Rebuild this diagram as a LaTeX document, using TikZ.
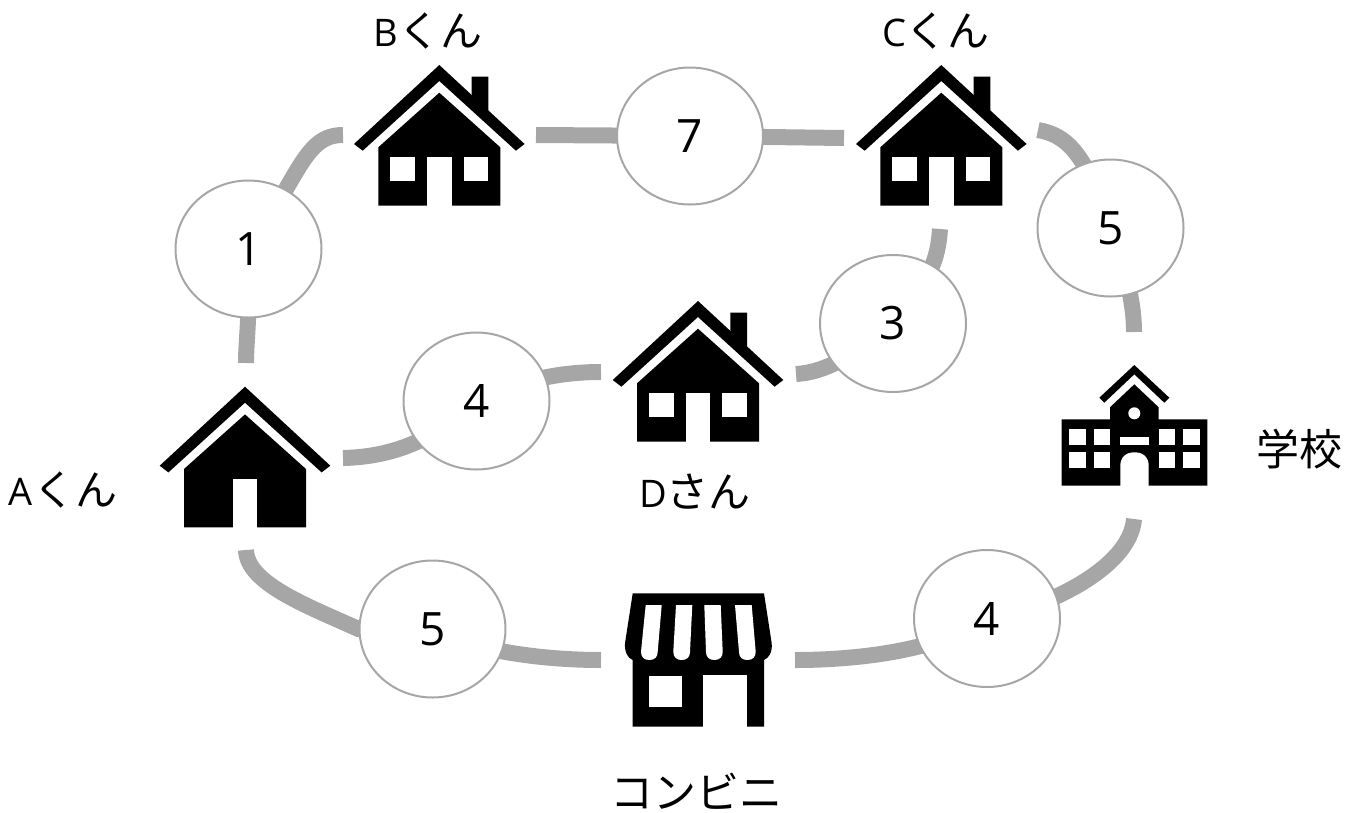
\documentclass[tikz,border=0pt]{standalone}
\usepackage{fontspec}
\setmainfont{Open Sans}
\newfontfamily\jpfont{Noto Sans CJK JP}
\newcommand{\kana}[1]{{\fontsize{42}{46}\jpfont #1}}
\usetikzlibrary{shapes.geometric,backgrounds}

\tikzset{
    dist/.style={ellipse, draw=linegray, line width=2pt, fill=white, inner sep=0pt,
        minimum width=146, minimum height=137, font=\fontsize{46}{50}\selectfont},
    road/.style={draw=roadgray, line width=16pt},
    who/.style={font=\fontsize{38}{42}\selectfont},
    bigwho/.style={font=\fontsize{43}{48}\jpfont},
    % roof and body of a house, from the tip of the roof
    house/.pic={
        \fill (0,0) -- (-85.3,79) -- (-76.6,85.7) -- (0,16) -- (76.6,85.7) -- (85.3,79) -- cycle;
        \fill (0,27.7) -- (-61,82.3) -- (-61,140.7) -- (61,140.7) -- (61,82.3) -- cycle;
        \fill[white] (-12.2,92) rectangle (12.2,141);
    },
    housefull/.pic={
        \pic {house};
        \fill (32.4,40) -- (32.4,11.7) -- (49,11.7) -- (49,55) -- cycle;
        \fill[white] (-49,92.3) rectangle (-24.3,115.7);
        \fill[white] (24.3,92.3) rectangle (49,115.7);
    }
}
\definecolor{linegray}{HTML}{A6A6A6}
\definecolor{roadgray}{HTML}{A6A6A6}

\begin{document}
\begin{tikzpicture}[x=1pt,y=-1pt]
    \useasboundingbox (0,0) rectangle (1353,812);

    % houses
    \pic at (245,386.7) {house};
    \pic at (439.3,65) {housefull};
    \pic at (941.3,65) {housefull};
    \pic at (698,301) {housefull};

    % school
    \fill (1134.3,365) -- (1099.3,397.7) -- (1104.3,402.7) -- (1134.3,374.3) -- (1164.3,402.7) -- (1169.3,397.7) -- cycle;
    \fill (1134.3,384.3) -- (1110,407.3) -- (1110,419.3) -- (1061.7,419.3) -- (1061.7,485.7) -- (1207.3,485.7) -- (1207.3,419.3) -- (1158.7,419.3) -- (1158.7,407.3) -- cycle;
    \fill[white] (1134.3,413.3) circle (6);
    \fill[white] (1120.3,437) rectangle (1148.7,445);
    \fill[white] (1120.3,486) -- (1120.3,466) .. controls (1120.3,457) and (1126,452.3) .. (1134.5,452.3) .. controls (1143,452.3) and (1148.7,457) .. (1148.7,466) -- (1148.7,486) -- cycle;
    \foreach \x in {1069.3,1094,1159,1183.3}
        \foreach \y in {429,452.3}
            \fill[white] (\x,\y) rectangle (\x+16.4,\y+16);

    % store
    \fill (632.7,593.3) -- (764,593.3) -- (771.7,643.3) .. controls (772.5,652) and (769,658) .. (764,660)
        -- (764,726.7) -- (632.7,726.7) -- (632.7,660) .. controls (627.5,658) and (624.5,652) .. (625,643.3) -- cycle;
    \fill[white] (702.7,675.3) rectangle (747.3,727);
    \fill[white] (649.3,675.7) rectangle (682.3,707.3);
    \foreach \a/\b/\c/\d in {645.7/661.7/641/657.7, 676/692.3/673.3/690, 704.3/720.7/706/722.7, 735/751.7/739/755.7}
        \fill[white] (\a,605) -- (\b,605) -- (\d,651.7) .. controls (\d,657) and (\d-3,660) .. ({(\c+\d)/2},660) .. controls (\c+3,660) and (\c,657) .. (\c,651.7) -- cycle;

    % distances
    \node[dist] (ab) at (248.5,249) {1};
    \node[dist] (bc) at (690,136) {7};
    \node[dist] (cs) at (1110.5,228) {5};
    \node[dist] (cd) at (893,323.5) {3};
    \node[dist] (ad) at (476.5,401) {4};
    \node[dist] (ak) at (432.5,629) {5};
    \node[dist] (ks) at (987,618.5) {4};

    % free ends of the roads
    \coordinate (a1) at (246,363);
    \coordinate (a2) at (343,458);
    \coordinate (a3) at (246,550);
    \coordinate (b1) at (343,135);
    \coordinate (b2) at (536,135);
    \coordinate (c1) at (844,138);
    \coordinate (c2) at (1038,130);
    \coordinate (c3) at (940,229);
    \coordinate (d1) at (796,374);
    \coordinate (d2) at (601,372);
    \coordinate (k1) at (601,660);
    \coordinate (k2) at (795,660);
    \coordinate (s1) at (1134,332);
    \coordinate (s2) at (1134,519);

    \begin{scope}[on background layer]
        \draw[road] (a1) .. controls (246,340) and (250,320) .. (ab.center);
        \draw[road] (ab.center) .. controls (300,175) and (305,135) .. (b1);
        \draw[road] (b2) -- (bc.center);
        \draw[road] (bc.center) -- (c1);
        \draw[road] (c2) .. controls (1065,135) and (1085,150) .. (cs.center);
        \draw[road] (cs.center) .. controls (1125,270) and (1134,300) .. (s1);
        \draw[road] (c3) .. controls (938,260) and (930,280) .. (cd.center);
        \draw[road] (cd.center) .. controls (860,350) and (830,372) .. (d1);
        \draw[road] (d2) .. controls (560,372) and (520,380) .. (ad.center);
        \draw[road] (ad.center) .. controls (430,445) and (385,457) .. (a2);
        \draw[road] (a3) .. controls (247,583) and (305,605) .. (ak.west) -- (ak.center);
        \draw[road] (ak.center) .. controls (470,650) and (540,660) .. (k1);
        \draw[road] (k2) .. controls (860,660) and (940,650) .. (ks.center);
        \draw[road] (ks.center) .. controls (1040,610) and (1130,570) .. (s2);
    \end{scope}

    % labels
    \node[who] (la) at (63,490) {A\kana{くん}};
    \node[who] (lb) at (428,31) {B\kana{くん}};
    \node[who] (lc) at (936,31) {C\kana{くん}};
    \node[who] (ld) at (695,492) {D\kana{さん}};
    \node[bigwho] (ls) at (1299,449) {学校};
    \node[bigwho, inner sep=0pt, anchor=base] (lk) at (696,808) {コンビニ};
\end{tikzpicture}
\end{document}
